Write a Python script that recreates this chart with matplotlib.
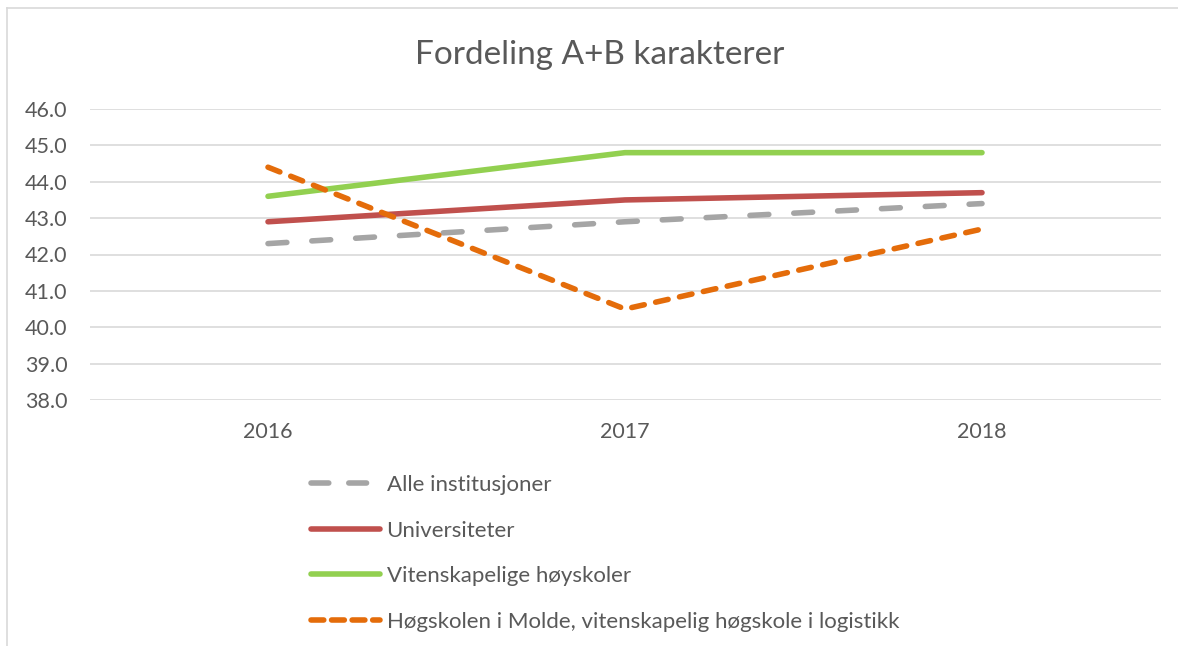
import matplotlib
matplotlib.use("Agg")
import matplotlib.pyplot as plt
from matplotlib.lines import Line2D

years = ["2016", "2017", "2018"]
alle = [42.3, 42.9, 43.4]
universiteter = [42.9, 43.5, 43.7]
vitenskapelige = [43.6, 44.8, 44.8]
molde = [44.4, 40.5, 42.7]
labels = ["Alle institusjoner", "Universiteter", "Vitenskapelige høyskoler",
          "Høgskolen i Molde, vitenskapelig høgskole i logistikk"]

plt.rcParams['font.family'] = ['Lato', 'DejaVu Sans']
txt = '#595959'

W, H = 1178, 646
fig = plt.figure(figsize=(W / 100, H / 100), dpi=100)
ax = fig.add_axes([89.5 / W, 1 - 400 / H, (1160.5 - 89.5) / W, (400 - 109) / H])

x = range(len(years))
lw = 4
alle_dash = (3.4, 4.5)
molde_dash = (2.3, 2.1)
ax.plot(x, alle, color='#a5a5a5', lw=lw, dashes=alle_dash, dash_capstyle='round')
ax.plot(x, universiteter, color='#c0504d', lw=lw, solid_capstyle='round')
ax.plot(x, vitenskapelige, color='#92d050', lw=lw, solid_capstyle='round')
ax.plot(x, molde, color='#e46c0a', lw=lw, dashes=molde_dash, dash_capstyle='round')

ax.set_xlim(-0.5, 2.5)
ax.set_ylim(38, 46)
ax.set_yticks(range(38, 47))
ax.set_yticklabels([f"{v:.1f}" for v in range(38, 47)])
ax.set_xticks(list(x))
ax.set_xticklabels(years)
ax.grid(axis='y', color='#d9d9d9', lw=1.2)
ax.set_axisbelow(True)
for s in ax.spines.values():
    s.set_visible(False)
ax.tick_params(length=0, labelsize=15.5, colors=txt)
ax.tick_params(axis='y', pad=16)
ax.tick_params(axis='x', pad=16)

fig.text(600 / W, 1 - 55 / H, "Fordeling A+B karakterer", ha='center', va='center',
         fontsize=24, color=txt)

handles = [
    Line2D([], [], color='#a5a5a5', lw=lw, dashes=(3.2, 3.6), dash_capstyle='round'),
    Line2D([], [], color='#c0504d', lw=lw, solid_capstyle='round'),
    Line2D([], [], color='#92d050', lw=lw, solid_capstyle='round'),
    Line2D([], [], color='#e46c0a', lw=lw, dashes=(2.3, 1.4), dash_capstyle='round'),
]
fig.legend(handles, labels, loc='upper left', bbox_to_anchor=(291 / W, 1 - 455 / H),
           frameon=False, fontsize=16, labelcolor=txt, handlelength=3.1,
           handletextpad=0.3, labelspacing=1.15)

fig.add_artist(Line2D([7 / W, 7 / W], [0, 1 - 8 / H], color='#d9d9d9', lw=1.2))
fig.add_artist(Line2D([7 / W, 1], [1 - 8 / H, 1 - 8 / H], color='#d9d9d9', lw=1.2))

fig.savefig("out.png", dpi=100)
